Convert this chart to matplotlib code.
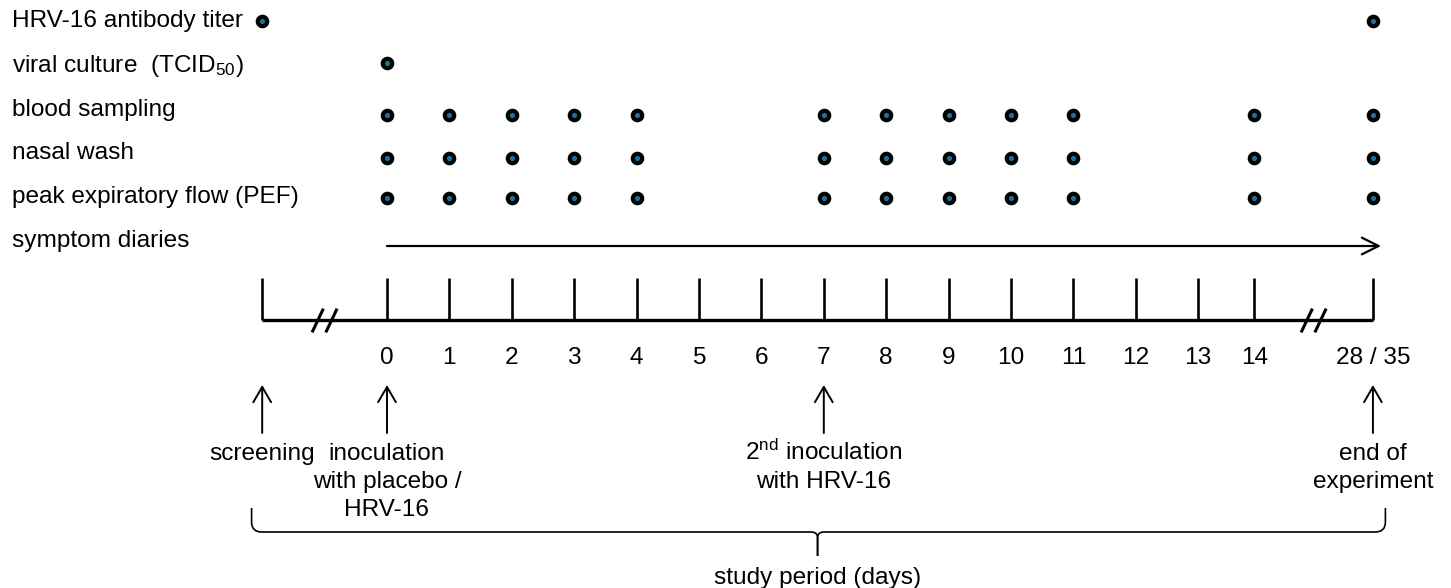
import matplotlib.pyplot as plt
from matplotlib.path import Path
from matplotlib.patches import PathPatch

plt.rcParams['font.family'] = ['Liberation Sans', 'DejaVu Sans']
plt.rcParams['mathtext.fontset'] = 'custom'
plt.rcParams['mathtext.rm'] = 'Liberation Sans'
plt.rcParams['mathtext.it'] = 'Liberation Sans:italic'

# timeline slots (14 and 28/35 sit after shortened / broken gaps)
day_labels = ["0", "1", "2", "3", "4", "5", "6", "7", "8", "9", "10", "11",
              "12", "13", "14", "28 / 35"]
day_slots = [0, 1, 2, 3, 4, 5, 6, 7, 8, 9, 10, 11, 12, 13, 13.9, 15.8]
screening_slot = -2.0

row_labels = ["HRV-16 antibody titer",
              "viral culture  (TCID$_{\\mathregular{50}}$)",
              "blood sampling",
              "nasal wash",
              "peak expiratory flow (PEF)",
              "symptom diaries"]

antibody_days = ["screening", "28 / 35"]
viral_days = ["0"]
blood_days = ["0", "1", "2", "3", "4", "7", "8", "9", "10", "11", "14", "28 / 35"]
nasal_days = ["0", "1", "2", "3", "4", "7", "8", "9", "10", "11", "14", "28 / 35"]
pef_days = ["0", "1", "2", "3", "4", "7", "8", "9", "10", "11", "14", "28 / 35"]
schedules = [antibody_days, viral_days, blood_days, nasal_days, pef_days]

events = ["screening", "0", "7", "28 / 35"]
event_labels = ["screening",
                "inoculation\nwith placebo /\nHRV-16",
                "2$^{\\mathregular{nd}}$ inoculation\nwith HRV-16",
                "end of\nexperiment"]

pos = dict(zip(day_labels, day_slots))
pos["screening"] = screening_slot

# vertical layout (pixel rows of the figure)
text_base = [27, 72, 116, 159, 203, 247]
dot_y = [21, 63, 115, 158, 198]
diary_y = 246
axis_y, tick_top = 320, 278
label_y = 358
event_base, event_step = 460, 28

fig = plt.figure(figsize=(14.51, 5.88), dpi=100)
ax = fig.add_axes([0, 0, 1, 1])
px = 62.4
ax.set_xlim(-387 / px, (1451 - 387) / px)
ax.set_ylim(588, 0)
ax.axis('off')

fs = 17.6
for lab, yb in zip(row_labels, text_base):
    ax.text(12 / 1451, yb, lab, transform=ax.get_yaxis_transform(),
            ha='left', va='baseline', fontsize=fs)

for days, yd in zip(schedules, dot_y):
    xs = [pos[d] for d in days]
    ax.plot(xs, [yd] * len(xs), 'o', ms=6.8, mfc='#1673a0', mec='black', mew=3.0)

end = pos["28 / 35"]
ax.annotate('', xy=(end + 0.13, diary_y), xytext=(0, diary_y),
            arrowprops=dict(arrowstyle='->,head_length=0.6,head_width=0.3',
                            lw=1.6, color='black', mutation_scale=20,
                            shrinkA=0, shrinkB=0))

# time axis
all_slots = [screening_slot] + day_slots
ax.plot([screening_slot, end], [axis_y, axis_y], color='black', lw=2.4,
        solid_capstyle='butt')
ax.vlines(all_slots, tick_top, axis_y, color='black', lw=1.9)
for a, b in [(screening_slot, 0), (pos["14"], end)]:
    c = (a + b) / 2
    for d in (-0.11, 0.11):
        ax.plot([c + d - 0.08, c + d + 0.08], [331, 310], color='black', lw=2.2)

for lab, s in zip(day_labels, day_slots):
    ax.text(s, label_y, lab, ha='center', va='center', fontsize=fs)

for ev, lab in zip(events, event_labels):
    x = pos[ev]
    ax.annotate('', xy=(x, 385), xytext=(x, 433),
                arrowprops=dict(arrowstyle='->,head_length=0.55,head_width=0.32',
                                lw=1.4, color='black', mutation_scale=20,
                                shrinkA=0, shrinkB=0))
    for i, line in enumerate(lab.split('\n')):
        ax.text(x, event_base + i * event_step, line, ha='center',
                va='baseline', fontsize=fs)

# brace for study period
L, R, T = screening_slot - 0.17, end + 0.2, pos["7"] - 0.1
y0, y1, y2 = 508, 532, 556
for side, sgn in ((L, 1), (R, -1)):
    verts = [(side, y0), (side, y1 - 10), (side, y1), (side + sgn * 0.16, y1),
             (T - sgn * 0.1, y1), (T, y1), (T, y1 + 6), (T, y2)]
    codes = [Path.MOVETO, Path.LINETO, Path.CURVE3, Path.CURVE3,
             Path.LINETO, Path.CURVE3, Path.CURVE3, Path.LINETO]
    ax.add_patch(PathPatch(Path(verts, codes), fill=False, lw=1.2, color='black'))
ax.text(T, 584, "study period (days)", ha='center', va='baseline', fontsize=fs)

fig.savefig("out.png", dpi=100)
